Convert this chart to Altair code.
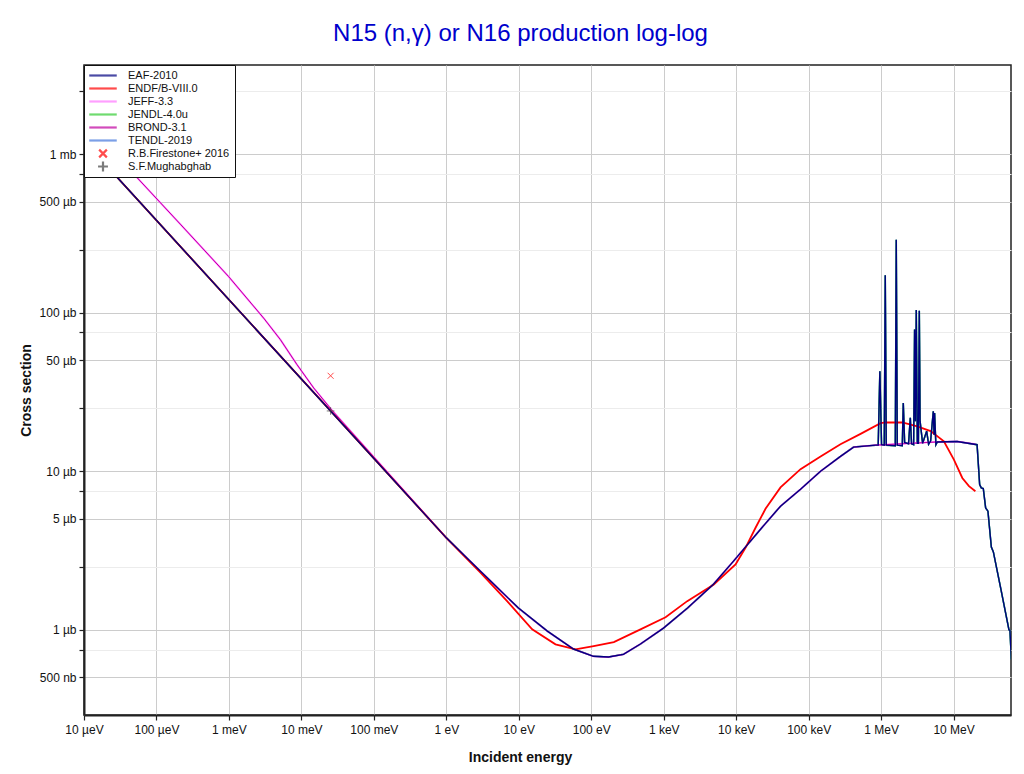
import math
import altair as alt
import pandas as pd

# ---------------- data ----------------
DATASETS = ["EAF-2010", "ENDF/B-VIII.0", "JEFF-3.3", "JENDL-4.0u", "BROND-3.1",
            "TENDL-2019", "R.B.Firestone+ 2016", "S.F.Mughabghab"]
COLORS = ["#000080", "#ff0000", "#ff77ff", "#33cc33", "#c000a0", "#4477dd",
          "#ff0000", "#444444"]
SHAPES = ["M-2.5,0L2.5,0"] * 6 + ["M-0.7,-0.7L0.7,0.7M-0.7,0.7L0.7,-0.7",
                                  "M-0.9,0L0.9,0M0,-0.9L0,0.9"]

# EAF-2010 (eV, barn)
eaf_e = [1e-5, 0.0253, 1.0, 2.96, 9.9, 24.8, 56.8, 107, 173, 278, 477, 993, 2130, 4860,
         9190, 21.7e3, 40.9e3, 77.3e3, 146e3, 275e3, 417e3, 838e3, 912e3, 961e3, 1.014e6,
         1.105e6, 1.141e6, 1.178e6, 1.569e6, 1.618e6, 1.672e6, 1.959e6, 2.023e6, 2.11e6,
         2.39e6, 2.529e6, 2.63e6, 2.81e6, 2.897e6, 2.97e6, 3.057e6, 3.16e6, 3.27e6,
         3.366e6, 3.45e6, 3.74e6, 4.25e6, 4.52e6, 4.82e6, 5.25e6, 5.38e6, 5.47e6, 5.70e6,
         5.96e6, 11.2e6, 21.1e6, 22.9e6, 24.1e6, 25.7e6, 27.7e6, 29.8e6, 33.2e6, 35.4e6,
         44.6e6, 58.1e6, 60e6, 62.7e6]
eaf_xs = [1.21e-3, 2.4e-5, 3.8e-6, 2.34e-6, 1.37e-6, 0.98e-6, 0.756e-6, 0.68e-6, 0.673e-6,
          0.70e-6, 0.813e-6, 1.025e-6, 1.37e-6, 1.94e-6, 2.71e-6, 4.31e-6, 6.02e-6, 7.70e-6,
          10.0e-6, 12.4e-6, 14.2e-6, 14.6e-6, 14.6e-6, 42.7e-6, 14.7e-6, 14.6e-6, 172e-6,
          14.6e-6, 14.5e-6, 288e-6, 14.6e-6, 14.5e-6, 26.9e-6, 15.2e-6, 14.9e-6, 21.7e-6,
          14.9e-6, 14.7e-6, 78.2e-6, 20.7e-6, 104e-6, 15.0e-6, 15.0e-6, 103e-6, 20.7e-6,
          15.0e-6, 17.9e-6, 14.8e-6, 15.5e-6, 23.9e-6, 17.0e-6, 23.3e-6, 14.7e-6, 15.3e-6,
          15.4e-6, 14.7e-6, 8.25e-6, 7.85e-6, 7.78e-6, 5.87e-6, 5.6e-6, 3.32e-6, 3.1e-6,
          1.84e-6, 1.0e-6, 0.99e-6, 0.65e-6]

# ENDF/B-VIII.0
endf_e = [1e-5, 0.0253, 1.0, 2.96, 6.9, 15.3, 32.1, 60.5, 108, 205, 478, 1060, 2110, 4910,
          9800, 13.5e3, 18.5e3, 25.4e3, 40.9e3, 77.3e3, 146e3, 275e3, 521e3, 984e3, 1.15e6,
          1.96e6, 3.15e6, 4.82e6, 7.35e6, 10.1e6, 13.2e6, 16.3e6, 20e6]
endf_xs = [1.21e-3, 2.4e-5, 3.8e-6, 2.29e-6, 1.516e-6, 1.006e-6, 0.809e-6, 0.752e-6,
           0.789e-6, 0.837e-6, 1.006e-6, 1.20e-6, 1.516e-6, 1.93e-6, 2.58e-6, 3.3e-6,
           4.4e-6, 5.8e-6, 7.9e-6, 10.3e-6, 12.4e-6, 14.8e-6, 17.2e-6, 20.1e-6, 20.3e-6,
           20.3e-6, 19.2e-6, 17.9e-6, 15.45e-6, 11.85e-6, 9.07e-6, 8.05e-6, 7.48e-6]

# JEFF-3.3 and BROND-3.1 (thermal region differs, above it they sit under EAF)
jeff_e = [1e-5, 2.13e-4, 9.9e-4, 3.01e-3, 5.13e-3, 8.71e-3, 1.48e-2, 2.65e-2, 1.0, 2.96,
          9.9, 24.8, 56.8, 107, 173, 278, 477, 993, 2130, 4860, 9190, 21.7e3, 40.9e3,
          77.3e3, 146e3, 275e3, 417e3, 838e3, 5.96e6, 11.2e6, 20e6]
jeff_xs = [1.63e-3, 3.62e-4, 1.69e-4, 9.25e-5, 6.76e-5, 4.70e-5, 3.35e-5, 2.42e-5, 3.8e-6,
           2.34e-6, 1.37e-6, 0.98e-6, 0.756e-6, 0.68e-6, 0.673e-6, 0.70e-6, 0.813e-6,
           1.025e-6, 1.37e-6, 1.94e-6, 2.71e-6, 4.31e-6, 6.02e-6, 7.70e-6, 10.0e-6, 12.4e-6,
           14.2e-6, 14.6e-6, 15.3e-6, 15.4e-6, 14.8e-6]
brond_e = list(jeff_e)
brond_xs = list(jeff_xs)
jendl_e = list(eaf_e)
jendl_xs = list(eaf_xs)
tendl_e = list(eaf_e)
tendl_xs = list(eaf_xs)

# experimental thermal points
exp_names = ["R.B.Firestone+ 2016", "S.F.Mughabghab"]
exp_e = [0.0253, 0.0253]
exp_xs = [4.0e-5, 2.4e-5]

# axis ticks
x_vals = [1e-5, 1e-4, 1e-3, 1e-2, 1e-1, 1, 10, 100, 1e3, 1e4, 1e5, 1e6, 1e7]
x_text = ["10 µeV", "100 µeV", "1 meV", "10 meV", "100 meV", "1 eV", "10 eV", "100 eV",
          "1 keV", "10 keV", "100 keV", "1 MeV", "10 MeV"]
y_vals = [5e-7, 7.5e-7, 1e-6, 2.5e-6, 5e-6, 7.5e-6, 1e-5, 2.5e-5, 5e-5, 7.5e-5, 1e-4,
          2.5e-4, 5e-4, 7.5e-4, 1e-3, 2.5e-3]
y_lab_vals = [1e-3, 5e-4, 1e-4, 5e-5, 1e-5, 5e-6, 1e-6, 5e-7]
y_text = ["1 mb", "500 µb", "100 µb", "50 µb", "10 µb", "5 µb", "1 µb", "500 nb"]

X_DOMAIN = [1e-5, 6.2e7]
Y_DOMAIN = [2.9e-7, 3.65e-3]

FONT = "Liberation Sans"


def label_expr(vals, texts):
    parts = [f"abs(log(datum.value)/LN10 - ({math.log10(v):.5f})) < 0.01 ? '{t}'"
             for v, t in zip(vals, texts)]
    return " : ".join(parts) + " : ''"


LG = "(log(datum.value)/LN10 - floor(log(datum.value)/LN10 + 0.001))"
minor_test = f"abs({LG} - 0.398) < 0.02 || abs({LG} - 0.875) < 0.02"

x_scale = alt.Scale(type="log", domain=X_DOMAIN, nice=False)
y_scale = alt.Scale(type="log", domain=Y_DOMAIN, nice=False)
color_scale = alt.Scale(domain=DATASETS, range=COLORS)
shape_scale = alt.Scale(domain=DATASETS, range=SHAPES)

x_axis = alt.Axis(values=x_vals, labelExpr=label_expr(x_vals, x_text), title="Incident energy",
                  grid=True, gridColor="#cccccc", gridWidth=1, tickSize=5, tickColor="#222",
                  tickWidth=1.2, domainColor="#222", domainWidth=2, labelFont=FONT,
                  labelFontSize=12, labelColor="#111", labelPadding=4, titleFont=FONT,
                  titleFontSize=14, titleFontWeight="bold", titleColor="#111",
                  titleX=436, titleY=46, titleBaseline="alphabetic", labelFlush=False)
y_axis = alt.Axis(values=y_vals, labelExpr=label_expr(y_lab_vals, y_text), title="Cross section",
                  grid=True,
                  gridColor={"condition": {"test": minor_test, "value": "#ececec"},
                             "value": "#cccccc"},
                  gridWidth=1, tickSize=5, tickColor="#222", tickWidth=1.2, domainColor="#222",
                  domainWidth=2, labelFont=FONT, labelFontSize=12, labelColor="#111",
                  labelPadding=3, titleFont=FONT, titleFontSize=14, titleFontWeight="bold",
                  titleColor="#111", titleX=-54, titleY=325, titleAngle=270,
                  titleBaseline="alphabetic", titleAlign="center", labelFlush=False)

legend = alt.Legend(orient="none", legendX=0, legendY=0, title=None,
                    fillColor="white", strokeColor="#111",
                    padding=5, labelFont=FONT, labelFontSize=11,
                    labelColor="#111", symbolSize=121, symbolStrokeWidth=2.2,
                    rowPadding=1, clipHeight=11, symbolOffset=7, labelOffset=18,
                    labelLimit=300, values=DATASETS)


def series_df(name, es, xs):
    return pd.DataFrame({"E": es, "xs": xs, "dataset": name, "i": range(len(es))})


def line_layer(name, es, xs, width):
    return alt.Chart(series_df(name, es, xs)).mark_line(strokeWidth=width, clip=True).encode(
        x=alt.X("E:Q", scale=x_scale, axis=x_axis),
        y=alt.Y("xs:Q", scale=y_scale, axis=y_axis),
        color=alt.Color("dataset:N", scale=color_scale, legend=legend),
        order="i:Q",
    )


layers = [
    line_layer("TENDL-2019", tendl_e, tendl_xs, 1.5),
    line_layer("JENDL-4.0u", jendl_e, jendl_xs, 1.5),
    line_layer("JEFF-3.3", jeff_e, jeff_xs, 1.8),
    line_layer("BROND-3.1", brond_e, brond_xs, 1.0),
    line_layer("ENDF/B-VIII.0", endf_e, endf_xs, 1.8),
    line_layer("EAF-2010", eaf_e, eaf_xs, 1.4),
]

exp_df = pd.DataFrame({"E": exp_e, "xs": exp_xs, "dataset": exp_names})
points = alt.Chart(exp_df).mark_point(filled=False, size=73, strokeWidth=1, clip=True).encode(
    x=alt.X("E:Q", scale=x_scale, axis=x_axis),
    y=alt.Y("xs:Q", scale=y_scale, axis=y_axis),
    color=alt.Color("dataset:N", scale=color_scale, legend=legend),
    shape=alt.Shape("dataset:N", scale=shape_scale, legend=legend),
)

chart = alt.layer(*layers, points).properties(
    width=927, height=650,
    autosize=alt.AutoSizeParams(type="none"),
    padding={"left": 76, "top": 57, "right": 5, "bottom": 50},
    background="white",
    title=alt.TitleParams("N15 (n,γ) or N16 production log-log", color="#0000cc", fontSize=24,
                          font=FONT, fontWeight="normal", anchor="middle", dx=-27, offset=0,
                          baseline="alphabetic"),
).configure_view(stroke="#222", strokeWidth=1.5)

chart.save("out.html", embed_options={"renderer": "svg", "actions": False})
